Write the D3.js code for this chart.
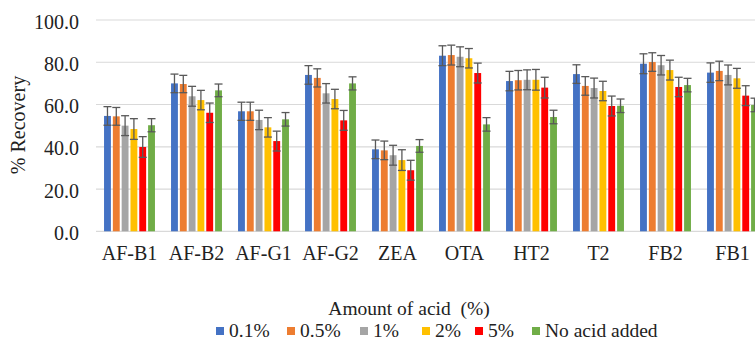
<!DOCTYPE html>
<html>
<head>
<meta charset="utf-8">
<script src="https://cdn.jsdelivr.net/npm/d3@7"></script>
<style>
  body { margin: 0; overflow: hidden; background: #fff; }
  svg { display: block; }
  svg text { font-family: "Liberation Serif", "Times New Roman", Times, "DejaVu Serif", serif; }
</style>
</head>
<body>
<div id="chart"></div>
<script>
// categories and series
const categories = ['AF-B1', 'AF-B2', 'AF-G1', 'AF-G2', 'ZEA', 'OTA', 'HT2', 'T2', 'FB2', 'FB1'];
const seriesNames = ['0.1%', '0.5%', '1%', '2%', '5%', 'No acid added'];
const colors = ['#4472C4', '#ED7D31', '#A5A5A5', '#FFC000', '#FF0000', '#70AD47'];

// mean recovery (%) per series, in category order
const acid01 = [54.6, 70.0, 56.8, 74.0, 38.8, 83.1, 71.1, 74.4, 79.3, 75.1];
const acid05 = [54.4, 69.7, 56.8, 72.6, 38.3, 83.4, 71.5, 68.8, 80.1, 75.9];
const acid1 = [50.0, 63.9, 52.7, 65.3, 36.0, 82.6, 71.7, 67.8, 78.6, 74.0];
const acid2 = [48.4, 62.1, 49.2, 62.6, 33.7, 81.9, 71.7, 66.4, 76.3, 72.4];
const acid5 = [39.9, 56.1, 42.7, 52.5, 28.9, 74.9, 68.0, 59.3, 68.3, 64.2];
const noAcid = [50.2, 66.7, 53.0, 70.0, 40.4, 50.6, 54.1, 59.4, 69.2, 59.8];

// standard deviations
const err01 = [4.4, 4.4, 4.3, 4.4, 4.4, 4.7, 4.6, 4.4, 4.7, 4.6];
const err05 = [4.2, 4.1, 4.3, 4.3, 4.4, 4.7, 4.6, 4.4, 4.4, 4.6];
const err1 = [4.7, 4.7, 4.6, 4.6, 4.7, 4.7, 4.7, 4.7, 4.6, 4.7];
const err2 = [4.9, 4.6, 4.6, 4.6, 4.9, 4.6, 4.9, 4.6, 4.7, 4.7];
const err5 = [4.9, 4.6, 4.7, 4.7, 4.7, 4.7, 4.9, 4.7, 4.6, 4.7];
const errNo = [3.1, 3.0, 3.2, 3.1, 3.0, 3.2, 3.2, 3.2, 3.2, 3.2];

const yTicks = [0, 20, 40, 60, 80, 100];

const seriesValues = [acid01, acid05, acid1, acid2, acid5, noAcid];
const seriesErrors = [err01, err05, err1, err2, err5, errNo];

const rows = [];
categories.forEach((c, i) => {
  seriesNames.forEach((s, j) => {
    rows.push({ cat: c, series: s, value: seriesValues[j][i], err: seriesErrors[j][i], color: colors[j] });
  });
});

// plot runs past the right edge of the window, like the reference
const width = 800, height = 340;
const plot = { left: 96, right: 766, top: 20, bottom: 231.3 };

const svg = d3.select('#chart').append('svg')
  .attr('width', width)
  .attr('height', height);

const x0 = d3.scaleBand()
  .domain(categories)
  .range([plot.left, plot.right])
  .paddingInner(0.24)
  .paddingOuter(0.12);

const x1 = d3.scaleBand()
  .domain(seriesNames)
  .range([0, x0.bandwidth()])
  .paddingInner(0.22);

const y = d3.scaleLinear().domain([0, 100]).range([plot.bottom, plot.top]);

// gridlines
svg.append('g').attr('class', 'grid')
  .selectAll('line')
  .data(yTicks)
  .join('line')
  .attr('x1', plot.left)
  .attr('x2', plot.right)
  .attr('y1', d => y(d))
  .attr('y2', d => y(d))
  .attr('stroke', '#D9D9D9')
  .attr('stroke-width', 1.2);

// y axis labels
const yAxis = svg.append('g')
  .attr('transform', `translate(${plot.left - 17},0)`)
  .call(d3.axisLeft(y).tickValues(yTicks).tickFormat(d3.format('.1f')).tickSize(0).tickPadding(0));
yAxis.attr('font-family', null);
yAxis.select('.domain').remove();
yAxis.selectAll('text')
  .attr('font-size', 20)
  .attr('fill', '#222')
  .attr('dy', '0.4em');

// x axis labels
const xAxis = svg.append('g')
  .attr('transform', `translate(0,${plot.bottom})`)
  .call(d3.axisBottom(x0).tickSize(0).tickPadding(0));
xAxis.attr('font-family', null);
xAxis.select('.domain').remove();
xAxis.selectAll('text')
  .attr('font-size', 20)
  .attr('fill', '#222')
  .attr('dy', null)
  .attr('y', 29);

// bars
const groups = svg.append('g').attr('class', 'bars')
  .selectAll('g')
  .data(categories)
  .join('g')
  .attr('transform', d => `translate(${x0(d)},0)`);

groups.selectAll('rect')
  .data(c => rows.filter(r => r.cat === c))
  .join('rect')
  .attr('x', d => x1(d.series))
  .attr('width', x1.bandwidth())
  .attr('y', d => y(d.value))
  .attr('height', d => y(0) - y(d.value))
  .attr('fill', d => d.color);

// error bars
const capW = 4;
const eb = groups.selectAll('g.err')
  .data(c => rows.filter(r => r.cat === c))
  .join('g')
  .attr('class', 'err')
  .attr('stroke', '#595959')
  .attr('stroke-width', 1.3);

eb.append('line')
  .attr('x1', d => x1(d.series) + x1.bandwidth() / 2)
  .attr('x2', d => x1(d.series) + x1.bandwidth() / 2)
  .attr('y1', d => y(d.value + d.err))
  .attr('y2', d => y(d.value - d.err));
eb.append('line')
  .attr('x1', d => x1(d.series) + x1.bandwidth() / 2 - capW)
  .attr('x2', d => x1(d.series) + x1.bandwidth() / 2 + capW)
  .attr('y1', d => y(d.value + d.err))
  .attr('y2', d => y(d.value + d.err));
eb.append('line')
  .attr('x1', d => x1(d.series) + x1.bandwidth() / 2 - capW)
  .attr('x2', d => x1(d.series) + x1.bandwidth() / 2 + capW)
  .attr('y1', d => y(d.value - d.err))
  .attr('y2', d => y(d.value - d.err));

// y title
svg.append('text')
  .attr('transform', 'translate(25,125) rotate(-90)')
  .attr('text-anchor', 'middle')
  .attr('font-size', 20)
  .attr('fill', '#222')
  .text('% Recovery');

// legend title
svg.append('text')
  .attr('x', 409)
  .attr('y', 315)
  .attr('text-anchor', 'middle')
  .attr('font-size', 19.5)
  .attr('fill', '#222')
  .style('white-space', 'pre')
  .text('Amount of acid  (%)');

// legend
const legendX = [216, 287, 360, 422, 475, 532];
const legend = svg.append('g').attr('class', 'legend')
  .selectAll('g')
  .data(seriesNames)
  .join('g')
  .attr('transform', (d, i) => `translate(${legendX[i]},0)`);

legend.append('rect')
  .attr('y', 327)
  .attr('width', 8)
  .attr('height', 8)
  .attr('fill', (d, i) => colors[i]);

legend.append('text')
  .attr('x', 13)
  .attr('y', 336.5)
  .attr('font-size', 19.5)
  .attr('fill', '#222')
  .text(d => d);
</script>
</body>
</html>
